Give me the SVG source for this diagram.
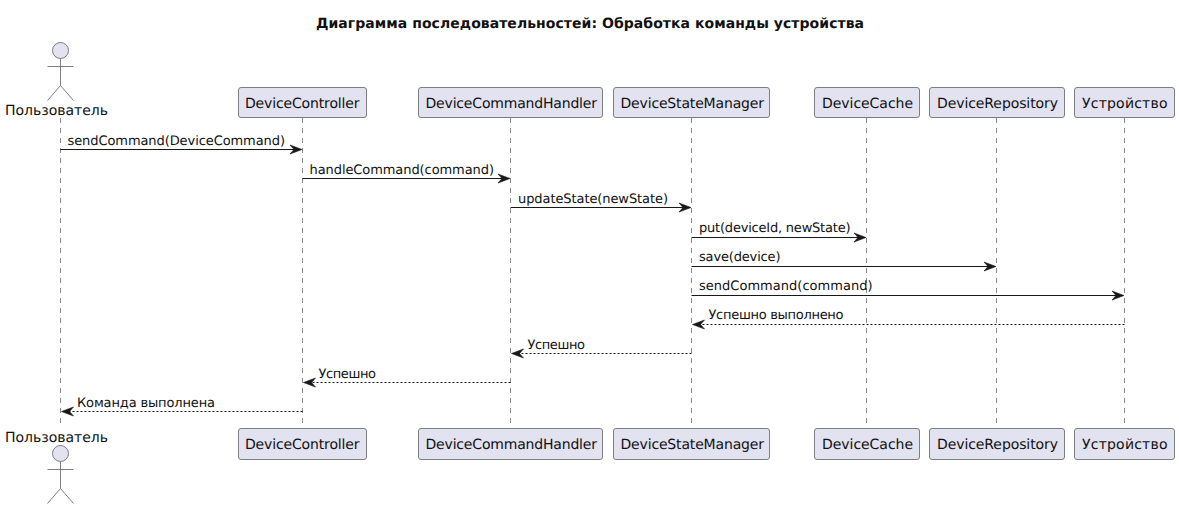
<svg xmlns="http://www.w3.org/2000/svg" width="1179" height="509" viewBox="0 0 1179 509">
<style>
text{font-family:"DejaVu Sans",sans-serif;fill:#111;text-rendering:geometricPrecision}
.t{font-size:14px;font-weight:bold}
.p{font-size:14px}
.m{font-size:13px}
.box{fill:#E2E2F0;stroke:#5F5F68;stroke-width:.8}
.act{fill:none;stroke:#5F5F68;stroke-width:.8}
.head{fill:#E2E2F0;stroke:#5F5F68;stroke-width:.8}
.life{stroke:#6A6A72;stroke-width:.8;stroke-dasharray:5 5;fill:none}
.s{stroke:#181818;stroke-width:1;fill:none}
.d{stroke:#181818;stroke-width:1;stroke-dasharray:2 2;fill:none}
.ah{fill:#181818;stroke:#181818;stroke-width:.6}
</style>
<defs>
<g id="ar"><path class="ah" d="M0 0L-12-4.500L-8 0L-12 4.500Z"/></g>
<g id="al"><path class="ah" d="M0 0L12-4.500L8 0L12 4.500Z"/></g>
<g id="actor"><circle class="head" cx="0" cy="0" r="8"/><path class="act" d="M0 8V35M-13 16H13M-13 50L0 35L13 50"/></g>
</defs>
<text class="t" x="316" y="28" textLength="548">Диаграмма последовательностей: Обработка команды устройства</text>
<g id="lifelines">
<path class="life" d="M60.500 118V428"/>
<path class="life" d="M302.500 118V428"/>
<path class="life" d="M510.500 118V428"/>
<path class="life" d="M691.500 118V428"/>
<path class="life" d="M866.500 118V428"/>
<path class="life" d="M996.500 118V428"/>
<path class="life" d="M1124.500 118V428"/>
</g>
<g id="user"><use href="#actor" x="60.500" y="50.500"/><text class="p" x="5" y="114.500" textLength="103">Пользователь</text><text class="p" x="5" y="442" textLength="103">Пользователь</text><use href="#actor" x="60.500" y="453.500"/></g>
<g id="controller"><rect class="box" x="238.500" y="87.500" width="128" height="30" rx="2.500"/><text class="p" x="245" y="107.500" textLength="114.500">DeviceController</text><rect class="box" x="238.500" y="428.500" width="128" height="31" rx="2.500"/><text class="p" x="245" y="449" textLength="114.500">DeviceController</text></g>
<g id="handler"><rect class="box" x="418.500" y="87.500" width="184" height="30" rx="2.500"/><text class="p" x="425.500" y="107.500" textLength="171.500">DeviceCommandHandler</text><rect class="box" x="418.500" y="428.500" width="184" height="31" rx="2.500"/><text class="p" x="425.500" y="449" textLength="171.500">DeviceCommandHandler</text></g>
<g id="statemanager"><rect class="box" x="613.500" y="87.500" width="156" height="30" rx="2.500"/><text class="p" x="620.500" y="107.500" textLength="143.500">DeviceStateManager</text><rect class="box" x="613.500" y="428.500" width="156" height="31" rx="2.500"/><text class="p" x="620.500" y="449" textLength="143.500">DeviceStateManager</text></g>
<g id="cache"><rect class="box" x="814.500" y="87.500" width="105" height="30" rx="2.500"/><text class="p" x="822" y="107.500" textLength="91">DeviceCache</text><rect class="box" x="814.500" y="428.500" width="105" height="31" rx="2.500"/><text class="p" x="822" y="449" textLength="91">DeviceCache</text></g>
<g id="repository"><rect class="box" x="929.500" y="87.500" width="135" height="30" rx="2.500"/><text class="p" x="937" y="107.500" textLength="121">DeviceRepository</text><rect class="box" x="929.500" y="428.500" width="135" height="31" rx="2.500"/><text class="p" x="937" y="449" textLength="121">DeviceRepository</text></g>
<g id="device"><rect class="box" x="1074.500" y="87.500" width="100" height="30" rx="2.500"/><text class="p" x="1082" y="107.500" textLength="85.500">Устройство</text><rect class="box" x="1074.500" y="428.500" width="100" height="31" rx="2.500"/><text class="p" x="1082" y="449" textLength="85.500">Устройство</text></g>
<g id="connectors">
<path class="s" d="M60.500 149.500H296"/><use href="#ar" x="302" y="149.500"/><text class="m" x="67.500" y="145" textLength="217.500">sendCommand(DeviceCommand)</text>
<path class="s" d="M302.500 178.500H504"/><use href="#ar" x="510" y="178.500"/><text class="m" x="309.500" y="174" textLength="184.500">handleCommand(command)</text>
<path class="s" d="M510.500 207.500H685"/><use href="#ar" x="691" y="207.500"/><text class="m" x="518" y="203" textLength="150">updateState(newState)</text>
<path class="s" d="M691.500 237.500H860"/><use href="#ar" x="866" y="237.500"/><text class="m" x="699" y="232" textLength="151.500">put(deviceId, newState)</text>
<path class="s" d="M691.500 266.500H990"/><use href="#ar" x="996" y="266.500"/><text class="m" x="699" y="261" textLength="81.500">save(device)</text>
<path class="s" d="M691.500 295.500H1118"/><use href="#ar" x="1124" y="295.500"/><text class="m" x="699" y="290" textLength="173.500">sendCommand(command)</text>
<path class="d" d="M1124.500 324.500H698"/><use href="#al" x="692.500" y="324.500"/><text class="m" x="708.500" y="319" textLength="135">Успешно выполнено</text>
<path class="d" d="M691.500 353.500H517"/><use href="#al" x="511.500" y="353.500"/><text class="m" x="527.500" y="349" textLength="57.500">Успешно</text>
<path class="d" d="M510.500 382.500H309"/><use href="#al" x="303.500" y="382.500"/><text class="m" x="318.500" y="378" textLength="57.500">Успешно</text>
<path class="d" d="M302.500 411.500H67"/><use href="#al" x="61.500" y="411.500"/><text class="m" x="77" y="407" textLength="138">Команда выполнена</text>
</g>
</svg>
